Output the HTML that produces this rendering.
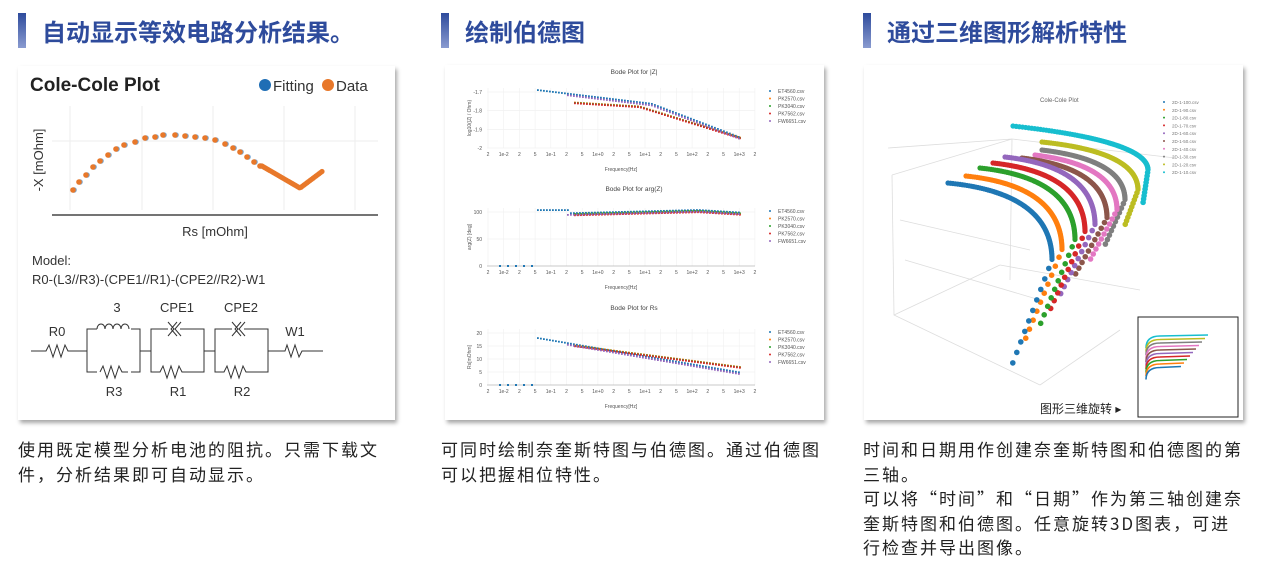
<!DOCTYPE html>
<html><head><meta charset="utf-8">
<style>
body{margin:0;width:1269px;height:587px;background:#fff;overflow:hidden;font-family:"Liberation Sans","Noto Sans CJK SC",sans-serif;position:relative}
.h{position:absolute;top:13px;height:35px;font-size:24px;font-weight:bold;color:#2e4b9c;line-height:35px;padding-left:24px;font-family:"Noto Sans CJK SC",sans-serif}
.h:before{content:"";position:absolute;left:0;top:0;width:8px;height:35px;background:linear-gradient(#2e4b9c,#8a9bd0)}
.card{position:absolute;background:#fff;box-shadow:2px 3px 4px rgba(0,0,0,.35)}
.t{position:absolute;font-size:17px;letter-spacing:2px;line-height:24.5px;color:#222;font-family:"Noto Sans CJK SC",sans-serif;white-space:nowrap}
svg text{font-family:"Liberation Sans",sans-serif}
</style></head><body>
<div class="h" style="left:18px">自动显示等效电路分析结果。</div>
<div class="h" style="left:441px">绘制伯德图</div>
<div class="h" style="left:863px">通过三维图形解析特性</div>

<div class="card" style="left:18px;top:66px;width:377px;height:354px"></div>
<div class="card" style="left:445px;top:65px;width:379px;height:355px"></div>
<div class="card" style="left:864px;top:65px;width:379px;height:355px"></div>

<svg id="s" width="1269" height="587" style="position:absolute;left:0;top:0">
<text x="30" y="91" font-size="19" font-weight="bold" fill="#222">Cole-Cole Plot</text>
<circle cx="265" cy="85" r="6" fill="#1f6eb5"/><text x="273" y="91" font-size="15" fill="#333">Fitting</text>
<circle cx="328" cy="85" r="6" fill="#e8782a"/><text x="336" y="91" font-size="15" fill="#333">Data</text>
<g stroke="#eee" stroke-width="1"><line x1="70" y1="106" x2="70" y2="210"/><line x1="142" y1="106" x2="142" y2="210"/><line x1="213" y1="106" x2="213" y2="210"/><line x1="284" y1="106" x2="284" y2="210"/><line x1="355" y1="106" x2="355" y2="210"/><line x1="52" y1="141" x2="378" y2="141"/></g>
<line x1="52" y1="215" x2="378" y2="215" stroke="#222" stroke-width="1.2"/>
<text transform="translate(43,160) rotate(-90)" text-anchor="middle" font-size="13" fill="#333">-X [mOhm]</text>
<text x="215" y="236" text-anchor="middle" font-size="13" fill="#333">Rs [mOhm]</text>
<g id="p1"></g>
<text x="32" y="265" font-size="13" fill="#333">Model:</text>
<text x="32" y="284" font-size="13" fill="#333">R0-(L3//R3)-(CPE1//R1)-(CPE2//R2)-W1</text>
<g fill="none" stroke="#333" stroke-width="1">
<path d="M31 351 H46 l3 -6 l4 12 l4 -12 l4 12 l4 -12 l3 6 H87"/>
<path d="M87 351 V329 H97 M131 329 H140 V372 H131 M97 372 H87 V351"/>
<path d="M97 329 a4 5 0 0 1 8 0 a4 5 0 0 1 8 0 a4 5 0 0 1 8 0 a4 5 0 0 1 8 0"/>
<path d="M100 372 l3 -6 l4 12 l4 -12 l4 12 l4 -12 l3 6 H128"/>
<path d="M140 351 H151 V329 H168 M180 329 H204 V372 H182 l-3 -6 l-4 12 l-4 -12 l-4 12 l-4 -12 l-3 6 H151 V351"/>
<path d="M168 322 l6 7 l-6 7 M177 322 l-6 7 l6 7 M181 322 l-6 7 l6 7"/>
<path d="M204 351 H215 V329 H232 M244 329 H268 V372 H246 l-3 -6 l-4 12 l-4 -12 l-4 12 l-4 -12 l-3 6 H215 V351"/>
<path d="M232 322 l6 7 l-6 7 M241 322 l-6 7 l6 7 M245 322 l-6 7 l6 7"/>
<path d="M268 351 H285 l2 -6 l4 12 l4 -12 l4 12 l3 -6 H323"/>
</g>
<g font-size="13" fill="#333" text-anchor="middle">
<text x="117" y="312">3</text><text x="177" y="312">CPE1</text><text x="241" y="312">CPE2</text>
<text x="57" y="336">R0</text><text x="295" y="336">W1</text>
<text x="114" y="396">R3</text><text x="178" y="396">R1</text><text x="242" y="396">R2</text></g>
<g id="p2" font-size="5" fill="#555"></g>
<g stroke="#ddd" stroke-width="0.8" fill="none">
<path d="M888 148 L1012 139 L1175 158 M892 175 L1012 139 M892 175 L894 315 L1040 385 M894 315 L1000 265 M1012 139 L1010 280"/>
<path d="M900 220 L1030 250 M905 260 L1040 300 M1000 265 L1140 290 M1040 385 L1120 330"/>
</g>
<text x="1040" y="102" font-size="6" fill="#666">Cole-Cole Plot</text>
<g id="p3"></g>
<rect x="1138" y="317" width="100" height="100" fill="#fff" stroke="#222" stroke-width="1"/>
<g id="p3i"></g>
<text x="1040" y="413" font-size="12" fill="#222" font-family="Noto Sans CJK SC,sans-serif">图形三维旋转 ▸</text>
</svg>

<div class="t" style="left:18px;top:437px">使用既定模型分析电池的阻抗。只需下载文<br>件，分析结果即可自动显示。</div>
<div class="t" style="left:441px;top:437px">可同时绘制奈奎斯特图与伯德图。通过伯德图<br>可以把握相位特性。</div>
<div class="t" style="left:863px;top:437px">时间和日期用作创建奈奎斯特图和伯德图的第<br>三轴。<br>可以将“时间”和“日期”作为第三轴创建奈<br>奎斯特图和伯德图。任意旋转3D图表，可进<br>行检查并导出图像。</div>

<script>
var NS="http://www.w3.org/2000/svg";
function el(g,t,a,txt){var e=document.createElementNS(NS,t);for(var k in a)e.setAttribute(k,a[k]);if(txt)e.textContent=txt;g.appendChild(e);return e;}
var g1=document.getElementById("p1");
var pts=[[73,190],[79,182],[86,175],[93,167],[100,161],[108,155],[116,149],[124,145],[135,142],[145,138],[155,137],[163,135],[175,135],[185,136],[195,137],[205,138],[215,140],[225,144],[233,148],[240,152],[247,157],[254,162],[260,166]];
pts.forEach(function(p){el(g1,"circle",{cx:p[0]+1,cy:p[1],r:2.8,fill:"#1f6eb5",opacity:.6});el(g1,"circle",{cx:p[0],cy:p[1],r:2.8,fill:"#e8782a"});});
for(var i=0;i<=40;i++){var t=i/40,x=262+t*60,y;if(x<300)y=166+(x-262)*0.58;else y=188-(x-300)*0.75; if(x>290&&x<310)y=Math.min(y,188-Math.abs(x-300)*0.1); el(g1,"circle",{cx:x,cy:y,r:2.6,fill:"#e8782a"});}
var g2=document.getElementById("p2");
var cols=["#1f77b4","#ff7f0e","#2ca02c","#d62728","#9467bd"];
var names=["ET4560.csv","PK2570.csv","PK3040.csv","PK7562.csv","FW6651.csv"];
var subs=[{ty:74,title:"Bode Plot for |Z|",top:88,bot:148,ylab:"log10(|Z| / Ohm)",yt:["-1.7","-1.8","-1.9","-2"]},
{ty:191,title:"Bode Plot for arg(Z)",top:208,bot:266,ylab:"arg(Z) [deg]",yt:["100","50","0"]},
{ty:310,title:"Bode Plot for Rs",top:329,bot:385,ylab:"Rs[mOhm]",yt:["20","15","10","5","0"]}];
var xt=["2","1e-2","2","5","1e-1","2","5","1e+0","2","5","1e+1","2","5","1e+2","2","5","1e+3","2"];
subs.forEach(function(s,k){
 el(g2,"text",{x:634,y:s.ty,"font-size":6.5,"text-anchor":"middle",fill:"#444"},s.title);
 for(var j=0;j<s.yt.length;j++){var y=s.top+4+j*(s.bot-s.top-4)/(s.yt.length-1);
  el(g2,"line",{x1:487,x2:755,y1:y,y2:y,stroke:"#eee","stroke-width":.6});
  el(g2,"text",{x:482,y:y+2,"text-anchor":"end"},s.yt[j]);}
 for(var j=0;j<xt.length;j++){var x=488+j*15.7;el(g2,"line",{x1:x,x2:x,y1:s.top,y2:s.bot,stroke:"#f0f0f0","stroke-width":.6});
  el(g2,"text",{x:x,y:s.bot+8,"text-anchor":"middle"},xt[j]);}
 if(k>0)el(g2,"line",{x1:487,x2:755,y1:s.bot,y2:s.bot,stroke:"#999","stroke-width":.6});
 el(g2,"text",{x:621,y:s.bot+23,"text-anchor":"middle"},"Frequency[Hz]");
 el(g2,"text",{transform:"translate(471,"+((s.top+s.bot)/2)+") rotate(-90)","text-anchor":"middle"},s.ylab);
 for(var c=0;c<5;c++){el(g2,"circle",{cx:770,cy:s.top+3+c*7.5,r:1,fill:cols[c]});el(g2,"text",{x:778,y:s.top+5+c*7.5},names[c]);}
 for(var c=0;c<5;c++){var x0=c==0?538:c==4?568:575;
  for(var x=x0;x<=741;x+=3){var y;
   if(k==0){y= c==0||c==4 ? 91+ (x<650? (x-538)*0.12 : 13+(x-650)*0.38) : 103+ (x<640?(x-575)*0.06:4+(x-640)*0.31);}
   else if(k==1){y=c==0&&x<570?211:(x<700?214-(x-575)*0.025:211+(x-700)*0.06); y+= (c%2);}
   else {y= c==0||c==4 ? 339+(x-538)*0.17 : 346+(x-575)*0.13;}
   el(g2,"rect",{x:x-1,y:y-1+(c-2)*0.4,width:1.8,height:1.8,fill:cols[c]});}
  if(k>0&&c==0){for(var x=500;x<540;x+=8)el(g2,"rect",{x:x-1,y:s.bot-1,width:2,height:2,fill:cols[0]});}
 }
});
var g3=document.getElementById("p3");
var c3=["#1f77b4","#ff7f0e","#2ca02c","#d62728","#9467bd","#8c564b","#e377c2","#7f7f7f","#bcbd22","#17becf"];
var heads=[[948,183],[966,176],[980,168],[993,163],[1005,157],[1022,158],[1035,155],[1042,150],[1042,142],[1013,126]];
var ends=[[1012,365],[1025,340],[1040,325],[1050,310],[1060,295],[1075,275],[1090,260],[1105,245],[1125,225],[1143,203]];
var corners=[[1052,260],[1062,250],[1075,240],[1085,232],[1095,225],[1107,218],[1117,210],[1125,200],[1138,190],[1148,170]];
for(var i=9;i>=0;i--){var h=heads[i],e=ends[i],cn=corners[i];
 var ctl=[cn[0],h[1]+ (i==9?15:10)];
 for(var t=0;t<=1;t+=0.012){var x=(1-t)*(1-t)*h[0]+2*t*(1-t)*ctl[0]+t*t*cn[0],y=(1-t)*(1-t)*h[1]+2*t*(1-t)*ctl[1]+t*t*cn[1];
  el(g3,"circle",{cx:x,cy:y,r:2.6,fill:c3[i]});}
 for(var t=0.08;t<=1;t+=0.1){el(g3,"circle",{cx:cn[0]+(e[0]-cn[0])*t,cy:cn[1]+(e[1]-cn[1])*t,r:2.8,fill:c3[i]});}
 el(g3,"circle",{cx:1164,cy:102+i*7.8,r:1,fill:c3[i]});
 el(g3,"text",{x:1172,y:104+i*7.8,"font-size":4.5,fill:"#777"},"2D-1-"+(100-i*10)+".csv");
}
var gi=document.getElementById("p3i");
for(var i=0;i<10;i++){var y=336+i*3.5,xe=1208-i*3;
 el(gi,"path",{d:"M1146 "+(y+12)+" Q1146 "+y+" 1160 "+y+" L"+xe+" "+(y-1),stroke:c3[9-i],fill:"none","stroke-width":1.6});}
</script>
</body></html>
